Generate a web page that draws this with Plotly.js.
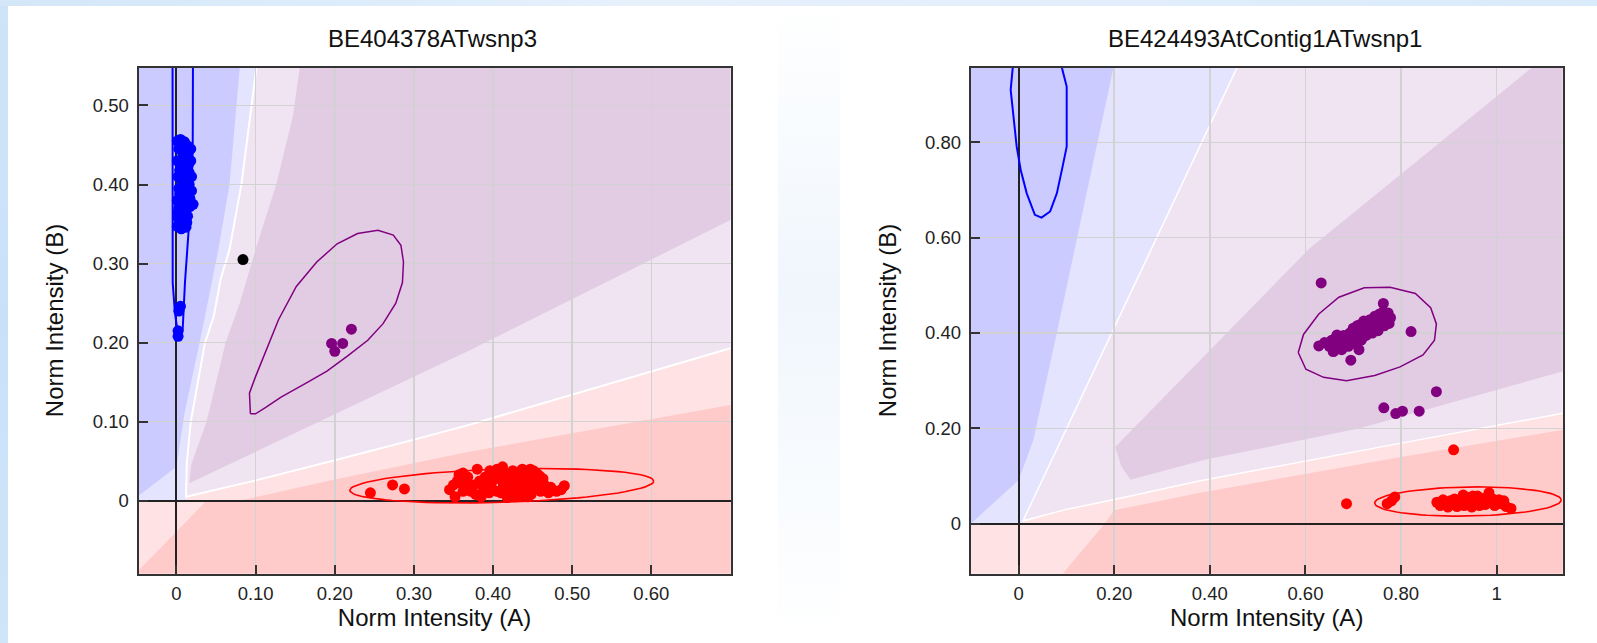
<!DOCTYPE html>
<html>
<head>
<meta charset="utf-8">
<script src="https://cdn.plot.ly/plotly-3.0.1.min.js"></script>
<style>
  html, body { margin:0; padding:0; width:1597px; height:643px; overflow:hidden; background:#ffffff; }
  #leftstrip { position:absolute; left:0; top:0; width:8px; height:643px; background:linear-gradient(to bottom,#cfe4f8,#c9e1f8 50%,#cfe5f9); }
  #topstrip { position:absolute; left:0; top:0; width:1597px; height:6px; background:linear-gradient(to right,#d3e7f9,#e6f1fc 40%,#e2eefb 70%,#d9eafa); }
  #midband { position:absolute; left:778px; top:0; width:62px; height:643px; background:linear-gradient(to bottom,rgba(236,244,252,0),rgba(236,244,252,0.8) 45%,rgba(236,244,252,0)); }
  #plot { position:absolute; left:0; top:0; width:1597px; height:643px; }
</style>
</head>
<body>
<div id="leftstrip"></div>
<div id="topstrip"></div>
<div id="midband"></div>
<div id="plot"></div>
<script>
// ---------------- titles / ticks ----------------
const titleLeft = 'BE404378ATwsnp3';
const titleRight = 'BE424493AtContig1ATwsnp1';
const axisTitleA = 'Norm Intensity (A)';
const axisTitleB = 'Norm Intensity (B)';

const L_xTickVals = [0, 0.1, 0.2, 0.3, 0.4, 0.5, 0.6];
const L_xTickText = ['0', '0.10', '0.20', '0.30', '0.40', '0.50', '0.60'];
const L_yTickVals = [0, 0.1, 0.2, 0.3, 0.4, 0.5];
const L_yTickText = ['0', '0.10', '0.20', '0.30', '0.40', '0.50'];
const R_xTickVals = [0, 0.2, 0.4, 0.6, 0.8, 1];
const R_xTickText = ['0', '0.20', '0.40', '0.60', '0.80', '1'];
const R_yTickVals = [0, 0.2, 0.4, 0.6, 0.8];
const R_yTickText = ['0', '0.20', '0.40', '0.60', '0.80'];

const L_xRange = [-0.048, 0.700];
const L_yRange = [-0.092, 0.548];
const R_xRange = [-0.100, 1.138];
const R_yRange = [-0.1045, 0.957];

// ---------------- left plot: points ----------------
const L_blueX = [0.001,0.005,0.010,0.014,0.003,0.008,0.013,0.018,0.001,0.005,0.011,0.016,0.019,0.002,0.007,0.013,0.003,0.009,0.015,0.001,0.006,0.012,0.017,0.021,0.002,0.008,0.014,0.004,0.010,0.001,0.006,0.012,0.003,0.016,0.019,0.009,0.004,0.018,0.011,0.007,0.012,0.004,0.015,0.009,0.002,0.017,0.006,0.013,0.005,0.003,0.002,0.002];
const L_blueY = [0.455,0.457,0.454,0.449,0.445,0.440,0.436,0.430,0.430,0.425,0.420,0.415,0.410,0.410,0.405,0.400,0.395,0.390,0.385,0.380,0.378,0.375,0.372,0.375,0.365,0.362,0.360,0.352,0.350,0.347,0.344,0.346,0.370,0.400,0.392,0.430,0.388,0.445,0.365,0.448,0.412,0.418,0.425,0.398,0.358,0.382,0.392,0.352,0.246,0.240,0.215,0.208];
const L_purpleX = [0.196, 0.200, 0.210, 0.221];
const L_purpleY = [0.199, 0.189, 0.199, 0.217];
const L_blackX = [0.084];
const L_blackY = [0.305];
const L_redX = [0.245,0.273,0.288,0.352,0.357,0.360,0.365,0.370,0.372,0.380,0.383,0.388,0.390,0.395,0.398,0.402,0.405,0.408,0.412,0.413,0.416,0.418,0.420,0.423,0.425,0.428,0.430,0.433,0.436,0.440,0.443,0.445,0.448,0.450,0.455,0.459,0.460,0.465,0.473,0.480,0.490,0.385,0.350,0.405,0.345,0.437,
  0.355,0.362,0.368,0.376,0.392,0.400,0.410,0.415,0.421,0.426,0.431,0.438,0.441,0.447,0.452,0.456,0.362,0.378,0.396,0.418,0.434,0.451,0.463,0.412,0.427,0.444,0.486,0.470];
const L_redY = [0.010,0.020,0.015,0.005,0.033,0.022,0.028,0.018,0.012,0.040,0.025,0.015,0.030,0.010,0.022,0.035,0.012,0.028,0.043,0.020,0.008,0.032,0.015,0.025,0.038,0.005,0.020,0.030,0.012,0.025,0.035,0.018,0.008,0.028,0.022,0.031,0.012,0.020,0.017,0.012,0.019,0.005,0.020,0.040,0.014,0.040,
  0.025,0.012,0.030,0.020,0.018,0.028,0.010,0.035,0.028,0.018,0.036,0.020,0.030,0.040,0.015,0.034,0.035,0.008,0.038,0.004,0.006,0.038,0.028,0.025,0.012,0.005,0.014,0.010];

// left plot cluster outlines
const L_blueEllX = [-0.005,-0.0048,-0.0048,-0.002,0.0023,0.0053,0.0078,0.0107,0.015,0.019,0.0205,0.0205,0.021];
const L_blueEllY = [0.62,0.546,0.276,0.238,0.208,0.204,0.216,0.276,0.343,0.394,0.444,0.546,0.62];
const L_purpleEllX = [0.0934,0.0922,0.0999,0.1128,0.1289,0.1514,0.1772,0.2030,0.2288,0.2546,0.2739,0.2836,0.2868,0.2855,0.2771,0.2610,0.2417,0.2159,0.1901,0.1643,0.1321,0.1128,0.0999,0.0934];
const L_purpleEllY = [0.110,0.136,0.157,0.188,0.229,0.271,0.302,0.325,0.338,0.342,0.336,0.323,0.302,0.276,0.250,0.224,0.203,0.183,0.164,0.149,0.131,0.118,0.110,0.110];
const L_redEllCenter = [0.411, 0.019];
const L_redEllAxes = [0.192, 0.021];
const L_redEllTilt = 0.03;

// left plot background regions (boundary vertices)
const L_regPurpleX = [0.016,0.37,0.70,0.80,0.80,0.163,0.147,0.126,0.100,0.080,0.062,0.038,0.019];
const L_regPurpleY = [0.022,0.19,0.355,0.405,0.60,0.60,0.486,0.40,0.318,0.25,0.20,0.10,0.047];
const L_wLineX = [0.104,0.101,0.082,0.067,0.056,0.047,0.036,0.018,0.013,0.012,0.099,0.199,0.299,0.37,0.70,0.80];
const L_wLineY = [0.60,0.548,0.40,0.318,0.281,0.233,0.20,0.10,0.047,0.005,0.0255,0.051,0.077,0.096,0.193,0.224];
const L_regLtBlueX = [-0.1,0.012,0.012,0.013,0.018,0.036,0.047,0.056,0.067,0.082,0.101,0.104,-0.1];
const L_regLtBlueY = [0,0,0.005,0.047,0.10,0.20,0.233,0.281,0.318,0.40,0.548,0.60,0.60];
const L_regBlueX = [-0.1,0.0815,0.080,0.067,0.053,0.036,0.027,0.010,0.0,-0.056,-0.1];
const L_regBlueY = [0.60,0.60,0.548,0.40,0.318,0.233,0.19,0.11,0.043,0,0];
const L_regLtPinkX = [-0.1,0.8,0.8,0.70,0.37,0.299,0.199,0.099,0.012,0.012,-0.1];
const L_regLtPinkY = [-0.2,-0.2,0.224,0.193,0.096,0.077,0.051,0.0255,0.005,0,0];
const L_regPinkX = [-0.157,0.8,0.8,0.70,0.37,0.2,0.08,0.038];
const L_regPinkY = [-0.2,-0.2,0.14,0.121,0.062,0.027,0.0,0.0];

// ---------------- right plot: points ----------------
const R_purpleX = [0.628,0.640,0.650,0.655,0.660,0.665,0.668,0.672,0.676,0.680,0.683,0.686,0.690,0.693,0.695,0.698,0.700,0.703,0.705,0.708,0.710,0.712,0.715,0.717,0.720,0.722,0.724,0.727,0.730,0.732,0.735,0.738,0.740,0.742,0.745,0.748,0.750,0.752,0.755,0.757,0.760,0.763,0.765,0.768,0.770,0.773,0.775,0.778,0.712,0.695,0.763,0.633,0.821,0.874,0.764,0.789,0.803,0.838,0.658,0.666];
const R_purpleY = [0.373,0.380,0.372,0.385,0.362,0.392,0.375,0.385,0.365,0.395,0.378,0.388,0.372,0.400,0.385,0.393,0.410,0.378,0.400,0.415,0.390,0.405,0.418,0.385,0.400,0.425,0.410,0.395,0.418,0.405,0.428,0.412,0.400,0.422,0.435,0.415,0.428,0.405,0.440,0.420,0.430,0.445,0.415,0.435,0.425,0.442,0.420,0.432,0.365,0.343,0.462,0.505,0.403,0.277,0.243,0.231,0.236,0.236,0.361,0.396];
const R_redX = [0.910,0.686,0.771,0.787,0.780,0.875,0.882,0.888,0.893,0.898,0.903,0.908,0.912,0.917,0.922,0.927,0.932,0.936,0.940,0.944,0.948,0.952,0.956,0.960,0.964,0.968,0.972,0.976,0.980,0.984,0.988,0.992,0.996,1.000,1.005,1.010,1.015,1.020,1.030,0.930,0.950];
const R_redY = [0.155,0.042,0.042,0.056,0.048,0.045,0.038,0.050,0.042,0.035,0.048,0.040,0.052,0.036,0.045,0.050,0.038,0.046,0.055,0.042,0.035,0.050,0.044,0.058,0.038,0.047,0.053,0.040,0.048,0.065,0.044,0.052,0.038,0.046,0.050,0.042,0.048,0.036,0.032,0.060,0.058];

const R_blueEllX = [-0.012,-0.0124,-0.0166,-0.011,-0.004,0.0044,0.017,0.034,0.048,0.066,0.080,0.092,0.1006,0.1006,0.091,0.085];
const R_blueEllY = [1.0,0.955,0.910,0.854,0.791,0.742,0.693,0.648,0.642,0.655,0.693,0.749,0.791,0.917,0.955,1.0];
const R_purpleEllX = [0.585,0.596,0.628,0.670,0.723,0.777,0.830,0.862,0.874,0.870,0.846,0.798,0.745,0.686,0.638,0.601,0.585];
const R_purpleEllY = [0.359,0.397,0.440,0.475,0.495,0.496,0.483,0.453,0.419,0.385,0.354,0.329,0.311,0.300,0.307,0.324,0.359];
const R_redEllCenter = [0.940, 0.0465];
const R_redEllAxes = [0.195, 0.0305];
const R_redEllTilt = 0.016;

// right plot background regions
const R_regPurpleX = [0.215,0.234,0.394,0.714,1.14,1.3,1.3,1.2,1.074,0.606,0.202];
const R_regPurpleY = [0.12,0.092,0.135,0.20,0.32,0.36,1.2,1.07,0.957,0.575,0.161];
const R_regLtBlueX = [-0.2,0.01,0.012,0.456,0.50,-0.2];
const R_regLtBlueY = [0,0,0.006,0.955,1.05,1.05];
const R_regBlueX = [-0.2,0.218,0.198,0.0797,0.031,0.0,-0.1,-0.2];
const R_regBlueY = [1.05,1.05,0.955,0.399,0.176,0.091,0.0,0.0];
const R_regLtPinkX = [-0.2,1.3,1.3,1.14,0.80,0.38,0.198,0.10,0.01,0.01,-0.2];
const R_regLtPinkY = [-0.2,-0.2,0.262,0.232,0.169,0.09,0.05,0.03,0.006,0,0];
const R_regPinkX = [0.013,1.3,1.3,1.14,0.80,0.38,0.20,0.18];
const R_regPinkY = [-0.2,-0.2,0.225,0.197,0.14,0.065,0.028,0.0];
const R_wLineX = [0.50,0.456,0.012,0.01,0.10,0.198,0.38,0.80,1.14,1.3];
const R_wLineY = [1.05,0.955,0.012,0.006,0.03,0.05,0.09,0.169,0.232,0.262];

// ---------------- styles ----------------
const C = {
  blueDark: 'rgb(203,203,255)', blueLight: 'rgb(228,228,255)',
  purpleLight: 'rgb(240,228,242)', purple: 'rgb(226,204,228)',
  pinkLight: 'rgb(255,226,228)', pink: 'rgb(255,202,202)',
  mBlue: '#0000ff', mPurple: '#800080', mRed: '#ff0000', mBlack: '#000000'
};
const FONT = '"Liberation Sans", Arial, sans-serif';
const MSIZE = 11;

function pathOf(xs, ys, close) {
  let s = '';
  for (let i = 0; i < xs.length; i++) s += (i ? 'L' : 'M') + xs[i] + ',' + ys[i];
  return close ? s + 'Z' : s;
}
function region(xs, ys, color, xr, yr) {
  return {type:'path', xref:xr, yref:yr, layer:'below', path:pathOf(xs, ys, true), fillcolor:color, line:{width:0}};
}
function wline(xs, ys, xr, yr, w) {
  return {type:'path', xref:xr, yref:yr, layer:'below', path:pathOf(xs, ys, false), fillcolor:'rgba(0,0,0,0)', line:{color:'#ffffff', width:w}};
}
function ellipse(center, axes, tilt) {
  const xs = [], ys = [];
  for (let d = 0; d <= 360; d += 4) {
    const t = d * Math.PI / 180;
    const dx = axes[0] * Math.cos(t);
    xs.push(center[0] + dx);
    ys.push(center[1] + axes[1] * Math.sin(t) + tilt * dx);
  }
  return {x: xs, y: ys};
}

const shapes = [
  region(L_regPurpleX, L_regPurpleY, C.purple, 'x', 'y'),
  region(L_regLtBlueX, L_regLtBlueY, C.blueLight, 'x', 'y'),
  region(L_regBlueX, L_regBlueY, C.blueDark, 'x', 'y'),
  region(L_regLtPinkX, L_regLtPinkY, C.pinkLight, 'x', 'y'),
  region(L_regPinkX, L_regPinkY, C.pink, 'x', 'y'),
  wline(L_wLineX, L_wLineY, 'x', 'y', 2),
  region(R_regPurpleX, R_regPurpleY, C.purple, 'x2', 'y2'),
  region(R_regLtBlueX, R_regLtBlueY, C.blueLight, 'x2', 'y2'),
  region(R_regBlueX, R_regBlueY, C.blueDark, 'x2', 'y2'),
  region(R_regLtPinkX, R_regLtPinkY, C.pinkLight, 'x2', 'y2'),
  region(R_regPinkX, R_regPinkY, C.pink, 'x2', 'y2'),
  wline(R_wLineX, R_wLineY, 'x2', 'y2', 1.5)
];

function lineTrace(x, y, color, w, xa, ya) {
  return {x:x, y:y, xaxis:xa, yaxis:ya, type:'scatter', mode:'lines', line:{color:color, width:w}, hoverinfo:'skip'};
}
function ptTrace(x, y, color, xa, ya) {
  return {x:x, y:y, xaxis:xa, yaxis:ya, type:'scatter', mode:'markers', marker:{color:color, size:MSIZE, line:{width:0}}, hoverinfo:'skip'};
}
const eRL = ellipse(L_redEllCenter, L_redEllAxes, L_redEllTilt);
const eRR = ellipse(R_redEllCenter, R_redEllAxes, R_redEllTilt);

const traces = [
  lineTrace(L_blueEllX, L_blueEllY, C.mBlue, 2, 'x', 'y'),
  lineTrace(L_purpleEllX, L_purpleEllY, C.mPurple, 1.5, 'x', 'y'),
  lineTrace(eRL.x, eRL.y, C.mRed, 1.6, 'x', 'y'),
  ptTrace(L_blueX, L_blueY, C.mBlue, 'x', 'y'),
  ptTrace(L_purpleX, L_purpleY, C.mPurple, 'x', 'y'),
  ptTrace(L_redX, L_redY, C.mRed, 'x', 'y'),
  ptTrace(L_blackX, L_blackY, C.mBlack, 'x', 'y'),
  lineTrace(R_blueEllX, R_blueEllY, C.mBlue, 2, 'x2', 'y2'),
  lineTrace(R_purpleEllX, R_purpleEllY, C.mPurple, 1.5, 'x2', 'y2'),
  lineTrace(eRR.x, eRR.y, C.mRed, 1.6, 'x2', 'y2'),
  ptTrace(R_purpleX, R_purpleY, C.mPurple, 'x2', 'y2'),
  ptTrace(R_redX, R_redY, C.mRed, 'x2', 'y2')
];

function axis(domain, range, tv, tt, title, anchor, isY) {
  return {
    domain: domain, range: range, anchor: anchor, fixedrange: true,
    tickmode: 'array', tickvals: tv, ticktext: tt,
    ticks: 'inside', ticklen: 9, tickwidth: 2, tickcolor: '#333',
    ticklabelstandoff: isY ? 4 : 2,
    tickfont: {family: FONT, size: 18.5, color: '#222'},
    showgrid: true, gridcolor: '#d2d2d2', gridwidth: 1.5,
    zeroline: true, zerolinecolor: '#222', zerolinewidth: 2,
    showline: true, mirror: true, linecolor: '#333', linewidth: 2,
    title: {text: title, font: {family: FONT, size: 24, color: '#111'}, standoff: isY ? 22 : 4},
    automargin: false
  };
}

const yDom = [1 - 573.5/643, 1 - 67.5/643];
const layout = {
  width: 1597, height: 643,
  margin: {l:0, r:0, t:0, b:0, pad:0},
  paper_bgcolor: 'rgba(0,0,0,0)',
  plot_bgcolor: C.purpleLight,
  showlegend: false, hovermode: false,
  xaxis: axis([138.5/1597, 730.5/1597], L_xRange, L_xTickVals, L_xTickText, axisTitleA, 'y', false),
  yaxis: axis(yDom, L_yRange, L_yTickVals, L_yTickText, axisTitleB, 'x', true),
  xaxis2: axis([970.8/1597, 1562.6/1597], R_xRange, R_xTickVals, R_xTickText, axisTitleA, 'y2', false),
  yaxis2: axis(yDom, R_yRange, R_yTickVals, R_yTickText, axisTitleB, 'x2', true),
  shapes: shapes,
  annotations: [
    {text: titleLeft, xref:'paper', yref:'paper', x: 433/1597, y: 1 - 39/643, xanchor:'center', yanchor:'middle', showarrow:false, font:{family:FONT, size:24, color:'#111'}},
    {text: titleRight, xref:'paper', yref:'paper', x: 1265/1597, y: 1 - 39/643, xanchor:'center', yanchor:'middle', showarrow:false, font:{family:FONT, size:24, color:'#111'}}
  ]
};

Plotly.newPlot('plot', traces, layout, {displayModeBar:false, staticPlot:true});
</script>
</body>
</html>
